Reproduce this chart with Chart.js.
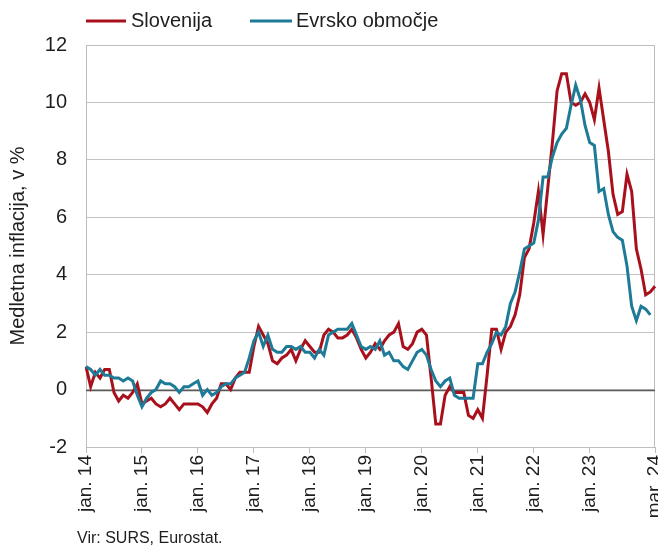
<!DOCTYPE html>
<html>
<head>
<meta charset="utf-8">
<script src="https://cdn.jsdelivr.net/npm/chart.js@4.4.1/dist/chart.umd.min.js"></script>
<style>
html,body{margin:0;padding:0;background:#fff;}
#wrap{width:658px;height:549px;position:relative;}
</style>
</head>
<body>
<div id="wrap"><canvas id="c" width="658" height="549"></canvas></div>
<script>
// ---- data ----
const monthNames = ['jan.','feb.','mar.','apr.','maj','jun.','jul.','avg.','sep.','okt.','nov.','dec.'];
const yearLabels = ['14','15','16','17','18','19','20','21','22','23','24'];
const categories = [];
yearLabels.forEach(function(y, yi){
  monthNames.forEach(function(m, mi){
    if (yi === yearLabels.length - 1 && mi > 2) return;
    categories.push(m + ' ' + y);
  });
});
const tickIndices = [0,12,24,36,48,60,72,84,96,108,122];
const tickLabels = ['jan. 14','jan. 15','jan. 16','jan. 17','jan. 18','jan. 19','jan. 20','jan. 21','jan. 22','jan. 23','mar. 24'];
const yTicks = [-2,0,2,4,6,8,10,12];

const slovenija = [
  0.8, 0.1, 0.6, 0.4, 0.7, 0.7, -0.1, -0.4, -0.2, -0.3, -0.1, 0.2,
  -0.5, -0.4, -0.3, -0.5, -0.6, -0.5, -0.3, -0.5, -0.7, -0.5, -0.5, -0.5,
  -0.5, -0.6, -0.8, -0.5, -0.3, 0.2, 0.2, 0.0, 0.4, 0.6, 0.6, 0.6,
  1.5, 2.2, 1.9, 1.6, 1.0, 0.9, 1.1, 1.2, 1.4, 1.0, 1.4, 1.7,
  1.5, 1.3, 1.3, 1.9, 2.1, 2.0, 1.8, 1.8, 1.9, 2.1, 1.8, 1.4,
  1.1, 1.3, 1.6, 1.4, 1.7, 1.9, 2.0, 2.3, 1.5, 1.4, 1.6, 2.0,
  2.1, 1.9, 0.4, -1.2, -1.2, -0.2, 0.1, -0.1, -0.1, -0.1, -0.9, -1.0,
  -0.7, -1.0, 0.5, 2.1, 2.1, 1.4, 2.0, 2.2, 2.6, 3.3, 4.6, 4.9,
  5.8, 6.9, 5.4, 7.0, 8.6, 10.4, 11.0, 11.0, 10.0, 9.9, 10.0, 10.3,
  10.0, 9.4, 10.5, 9.4, 8.3, 6.8, 6.1, 6.2, 7.5, 6.9, 4.9, 4.2,
  3.3, 3.4, 3.6
];
const evrskoObmocje = [
  0.8, 0.7, 0.5, 0.7, 0.5, 0.5, 0.4, 0.4, 0.3, 0.4, 0.3, -0.2,
  -0.6, -0.3, -0.1, 0.0, 0.3, 0.2, 0.2, 0.1, -0.1, 0.1, 0.1, 0.2,
  0.3, -0.2, 0.0, -0.2, -0.1, 0.1, 0.2, 0.2, 0.4, 0.5, 0.6, 1.1,
  1.7, 2.0, 1.5, 1.9, 1.4, 1.3, 1.3, 1.5, 1.5, 1.4, 1.5, 1.3,
  1.3, 1.1, 1.4, 1.2, 1.9, 2.0, 2.1, 2.1, 2.1, 2.3, 1.9, 1.5,
  1.4, 1.5, 1.4, 1.7, 1.2, 1.3, 1.0, 1.0, 0.8, 0.7, 1.0, 1.3,
  1.4, 1.2, 0.7, 0.3, 0.1, 0.3, 0.4, -0.2, -0.3, -0.3, -0.3, -0.3,
  0.9, 0.9, 1.3, 1.6, 2.0, 1.9, 2.2, 3.0, 3.4, 4.1, 4.9, 5.0,
  5.1, 5.9, 7.4, 7.4, 8.1, 8.6, 8.9, 9.1, 9.9, 10.6, 10.1, 9.2,
  8.6, 8.5, 6.9, 7.0, 6.1, 5.5, 5.3, 5.2, 4.3, 2.9, 2.4, 2.9,
  2.8, 2.6
];

// ---- styles ----
const FONT = "'Liberation Sans', Arial, sans-serif";
const RED = '#A8111C';
const TEAL = '#1D7B98';
const TXT = '#1e1e1e';
const GRID = '#c4c4c4';

const framePlugin = {
  id: 'frame',
  beforeDatasetsDraw(chart) {
    const a = chart.chartArea, c = chart.ctx;
    c.save();
    c.strokeStyle = '#bdbdbd';
    c.lineWidth = 1;
    c.strokeRect(Math.round(a.left) + 0.5, Math.round(a.top) + 0.5,
                 Math.round(a.right - a.left) - 1, Math.round(a.bottom - a.top));
    // zero line redrawn darker
    const y0 = Math.round(chart.scales.y.getPixelForValue(0)) + 0.5;
    c.strokeStyle = '#5a5a5a';
    c.lineWidth = 1.6;
    c.beginPath(); c.moveTo(a.left, y0); c.lineTo(a.right, y0); c.stroke();
    c.restore();
  }
};

const legendPlugin = {
  id: 'customLegend',
  afterDraw(chart) {
    const c = chart.ctx;
    const items = [
      {ds: chart.data.datasets[0], x0: 86, x1: 126, tx: 131},
      {ds: chart.data.datasets[1], x0: 250, x1: 292, tx: 296}
    ];
    c.save();
    c.font = '20px ' + FONT;
    c.textBaseline = 'middle';
    c.fillStyle = TXT;
    const y = 21;
    items.forEach(function(it){
      c.strokeStyle = it.ds.borderColor;
      c.lineWidth = 3;
      c.beginPath(); c.moveTo(it.x0, y); c.lineTo(it.x1, y); c.stroke();
      c.fillText(it.ds.label, it.tx, y);
    });
    c.font = '16px ' + FONT;
    c.fillText('Vir: SURS, Eurostat.', 77, 539);
    c.restore();
  }
};

new Chart(document.getElementById('c').getContext('2d'), {
  type: 'line',
  data: {
    labels: categories,
    datasets: [
      {label: 'Slovenija', data: slovenija, borderColor: RED, backgroundColor: RED,
       borderWidth: 3, pointRadius: 0, tension: 0, fill: false, order: 1},
      {label: 'Evrsko območje', data: evrskoObmocje, borderColor: TEAL, backgroundColor: TEAL,
       borderWidth: 3, pointRadius: 0, tension: 0, fill: false, order: 0}
    ]
  },
  options: {
    responsive: false,
    animation: false,
    devicePixelRatio: 1,
    layout: {padding: {top: 45, right: 3, bottom: 0, left: 0}},
    plugins: {legend: {display: false}, tooltip: {enabled: false}},
    scales: {
      x: {
        type: 'category',
        offset: false,
        grid: {
          drawOnChartArea: false, drawTicks: true, tickLength: 6,
          color: function(ctx){ return tickIndices.indexOf(ctx.index) >= 0 ? '#bdbdbd' : 'rgba(0,0,0,0)'; }
        },
        border: {display: true, color: '#bdbdbd'},
        ticks: {
          autoSkip: false, maxRotation: 90, minRotation: 90, padding: 2,
          color: TXT, font: {family: FONT, size: 19},
          callback: function(v, i){ const k = tickIndices.indexOf(i); return k >= 0 ? tickLabels[k] : ''; }
        },
        afterFit: function(s){ s.height = 102; s.paddingLeft = 0; s.paddingRight = 0; }
      },
      y: {
        min: -2, max: 12,
        afterBuildTicks: function(s){ s.ticks = yTicks.map(function(v){ return {value: v}; }); },
        grid: {drawTicks: false, color: GRID, lineWidth: 1},
        border: {display: true, color: '#bdbdbd'},
        ticks: {padding: 19, color: TXT, font: {family: FONT, size: 20}},
        title: {display: true, text: 'Medletna inflacija, v %', color: TXT,
                font: {family: FONT, size: 20}, padding: {top: 6, bottom: 0}},
        afterFit: function(s){ s.width = 86; s.paddingTop = 0; s.paddingBottom = 0; }
      }
    }
  },
  plugins: [framePlugin, legendPlugin]
});
</script>
</body>
</html>
